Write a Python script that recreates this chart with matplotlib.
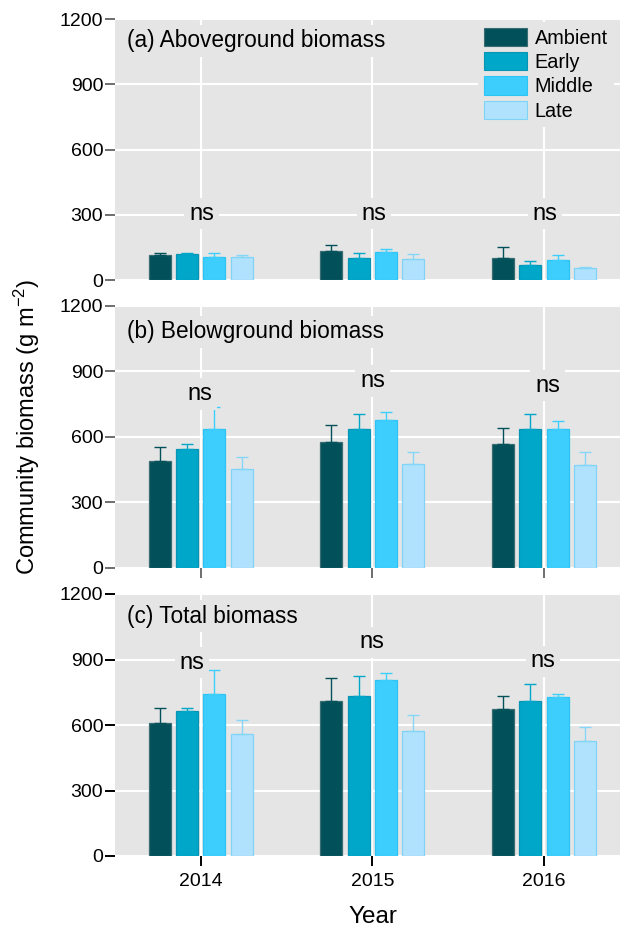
import matplotlib
matplotlib.use("Agg")
import matplotlib.pyplot as plt
import numpy as np
from matplotlib.patches import Patch

plt.rcParams["font.family"] = ["Liberation Sans", "DejaVu Sans"]
plt.rcParams["mathtext.fontset"] = "custom"
plt.rcParams["mathtext.rm"] = "Liberation Sans"
plt.rcParams["mathtext.it"] = "Liberation Sans:italic"
plt.rcParams["mathtext.bf"] = "Liberation Sans:bold"

# ---- data -------------------------------------------------------------
years = ["2014", "2015", "2016"]
treatments = ["Ambient", "Early", "Middle", "Late"]

# means per treatment (rows) across years (columns), g m-2
above_mean = [[115, 135, 103],
              [118, 103, 70],
              [107, 130, 93],
              [107, 98, 57]]
above_se = [[8, 25, 47],
            [5, 20, 16],
            [16, 13, 20],
            [6, 20, 4]]

below_mean = [[490, 576, 568],
              [542, 634, 637],
              [634, 677, 634],
              [451, 474, 469]]
below_se = [[62, 76, 71],
            [23, 69, 69],
            [101, 35, 37],
            [55, 57, 62]]

total_mean = [[607, 708, 671],
              [662, 735, 708],
              [744, 808, 726],
              [561, 572, 525]]
total_se = [[69, 105, 62],
            [14, 90, 78],
            [110, 28, 17],
            [60, 76, 68]]

panel_titles = ["(a) Aboveground biomass", "(b) Belowground biomass", "(c) Total biomass"]
sig_labels = ["ns", "ns", "ns"]

# ---- styling ----------------------------------------------------------
fills = ["#02515A", "#01A7C9", "#3ECEFE", "#B1E2FD"]
edges = ["#3a6d73", "#0a94b4", "#2cc4f4", "#7fd3f6"]
errc = ["#02515A", "#01A7C9", "#3ECEFE", "#86D6F7"]
bg = "#e5e5e5"

W, H = 627, 932
fig = plt.figure(figsize=(W / 100, H / 100), dpi=100)

left, width = 115 / W, 505 / W
panel_px = [(19, 280), (306, 567.5), (594, 856)]

ns_y = [[305, 305, 305], [796, 855, 834], [886, 979, 891]]
ns_dx = [[0.005, 0.01, 0.005], [-0.005, 0.0, 0.02], [-0.052, -0.005, -0.005]]
title_y = [0.917, 0.902, 0.915]

means = [above_mean, below_mean, total_mean]
ses = [above_se, below_se, total_se]

x = np.arange(len(years))
bw = 0.128
step = 0.159
offsets = (np.arange(len(treatments)) - 1.5) * step

tick_gray = "#6e6e6e"
tick_fs = 14

for p in range(3):
    top, bot = panel_px[p]
    ax = fig.add_axes([left, 1 - bot / H, width, (bot - top) / H])
    ax.set_facecolor(bg)
    for s in ax.spines.values():
        s.set_visible(False)
    ax.set_axisbelow(True)
    ax.grid(True, color="white", linewidth=1.5)
    ax.set_xlim(-0.5, 2.443)
    ax.set_ylim(0, 1200)
    ax.set_yticks([0, 300, 600, 900, 1200])
    ax.set_xticks(x)

    m = np.array(means[p])
    e = np.array(ses[p])
    for i in range(len(treatments)):
        xs = x + offsets[i]
        ax.bar(xs, m[i], width=bw, color=fills[i], edgecolor=edges[i],
               linewidth=0.9, zorder=2)
        ax.errorbar(xs, m[i], yerr=[np.zeros_like(e[i]), e[i]], fmt="none",
                    ecolor=errc[i], elinewidth=1.0, capsize=4.3,
                    capthick=1.0, zorder=3)

    for j in range(len(years)):
        ax.text(x[j] + ns_dx[p][j], ns_y[p][j], sig_labels[p], ha="center",
                va="center", fontsize=17, color="black", zorder=5,
                bbox=dict(boxstyle="square,pad=0.2", fc=bg, ec="none"))

    ax.text(12 / 505, title_y[p], panel_titles[p], transform=ax.transAxes,
            ha="left", va="center", fontsize=16.3, color="black", zorder=5,
            bbox=dict(boxstyle="square,pad=0.2", fc=bg, ec="none"))

    tcol = "black" if p == 2 else tick_gray
    ax.tick_params(axis="y", length=7, width=1.4, color=tcol, pad=1.5,
                   labelsize=tick_fs, labelcolor="black")
    if p == 0:
        ax.tick_params(axis="x", length=0, labelbottom=False)
    elif p == 1:
        ax.tick_params(axis="x", length=7, width=1.4, color=tcol,
                       labelbottom=False)
    else:
        ax.tick_params(axis="x", length=7, width=1.4, color=tcol, pad=5,
                       labelsize=tick_fs, labelcolor="black")
        ax.set_xticklabels(years)

    if p == 0:
        handles = [Patch(facecolor=fills[i], edgecolor=edges[i], linewidth=0.8)
                   for i in range(len(treatments))]
        leg = ax.legend(handles, treatments, loc="upper right",
                        bbox_to_anchor=(0.988, 0.99), fontsize=14.3,
                        handlelength=2.15, handleheight=1.05,
                        labelspacing=0.22, handletextpad=0.4,
                        borderpad=0.3, borderaxespad=0.0, frameon=True,
                        fancybox=False)
        leg.get_frame().set_facecolor(bg)
        leg.get_frame().set_edgecolor("none")
        leg.get_frame().set_alpha(1)
        leg.set_zorder(6)

fig.text(27 / W, 1 - 427 / H, r"Community biomass (g m$^{\mathregular{-2}}$)",
         rotation=90, ha="center", va="center", fontsize=17)
fig.text(373 / W, 1 - 917 / H, "Year", ha="center", va="center", fontsize=17.5)

fig.savefig("out.png", dpi=100, facecolor="white")
